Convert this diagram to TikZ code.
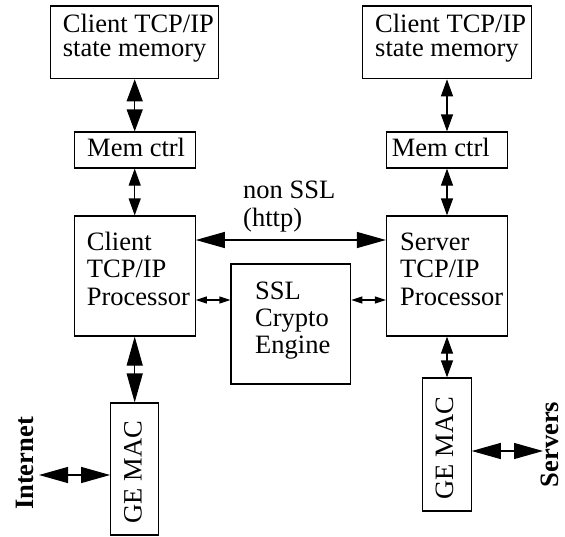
\documentclass[tikz,border=0pt]{standalone}
\usepackage{fontspec}
\setmainfont{Liberation Serif}
\usetikzlibrary{arrows.meta}

\tikzset{
  box/.style={draw, line width=1.2pt, inner sep=0pt, fill=none},
  % multi-line labels are anchored at the baseline of their last line
  txt/.style={inner sep=0pt, align=left, anchor=base west,
    font=\fontsize{26.5}{27}\selectfont},
  vtxt/.style={inner sep=0pt, anchor=base, rotate=90,
    font=\fontsize{26.5}{27}\selectfont},
  link/.style={line width=1.2pt},
  hugetip/.tip={Triangle[length=29pt,width=16pt]},
  bigtip/.tip={Triangle[length=22pt,width=16pt]},
  midtip/.tip={Triangle[length=17pt,width=12pt]},
  smalltip/.tip={Triangle[length=11pt,width=7pt]},
}

\begin{document}
\begin{tikzpicture}[x=1pt,y=-1pt]
\useasboundingbox (0,0) rectangle (565,536);

% client side boxes
\node[box, minimum width=168.3pt, minimum height=72.7pt] (csmL) at (134.7,42.35) {};
\node[box, minimum width=121pt, minimum height=36pt] (memL) at (134.7,150) {};
\node[box, minimum width=121pt, minimum height=120pt] (procL) at (134.7,276) {};
\node[box, minimum width=48pt, minimum height=132pt] (gemacL) at (134.7,469) {};

% crypto engine
\node[box, minimum width=119.7pt, minimum height=120pt] (ssl) at (290.85,324) {};

% server side boxes
\node[box, minimum width=169pt, minimum height=72.7pt] (csmR) at (447,42.35) {};
\node[box, minimum width=121pt, minimum height=36pt] (memR) at (447,150) {};
\node[box, minimum width=121pt, minimum height=120pt] (procR) at (447,276) {};
\node[box, minimum width=48.3pt, minimum height=133pt] (gemacR) at (447,444.5) {};

% labels
\node[txt, font=\fontsize{26.5}{24}\selectfont] (csmLt) at (62.7,56.2) {Client TCP/IP\\state memory};
\node[txt, font=\fontsize{26.5}{24}\selectfont] (csmRt) at (375,56.2) {Client TCP/IP\\state memory};
\node[txt] (memLt) at (87,156.7) {Mem ctrl};
\node[txt] (memRt) at (391.7,156.7) {Mem ctrl};
\node[txt, font=\fontsize{26.5}{27.5}\selectfont] (procLt) at (86.7,305) {Client\\TCP/IP\\Processor};
\node[txt, font=\fontsize{26.5}{27.5}\selectfont] (procRt) at (400,305) {Server\\TCP/IP\\Processor};
\node[txt, font=\fontsize{26.5}{26.7}\selectfont] (sslt) at (255,353.3) {SSL\\Crypto\\Engine};
\node[txt, font=\fontsize{26.5}{28.4}\selectfont] (nonssl) at (243,226.7) {non SSL\\(http)};
\node[vtxt] (gemacLt) at (141.7,472) {GE MAC};
\node[vtxt] (gemacRt) at (453,448) {GE MAC};
\node[vtxt, font=\fontsize{26.5}{27}\selectfont\bfseries] (inet) at (33.3,463.5) {Internet};
\node[vtxt, font=\fontsize{26.5}{27}\selectfont\bfseries] (servers) at (558,444.5) {Servers};

% outer ends of the network links
\coordinate (inetEnd) at (39,475);
\coordinate (srvEnd) at (543,451);

% client column
\draw[link, bigtip-bigtip] (csmL.south) -- (memL.north);
\draw[link, midtip-midtip] (memL.south) -- (procL.north);
\draw[link, hugetip-hugetip] (procL.south) -- (gemacL.north);
\draw[link, hugetip-hugetip] (inetEnd) -- (gemacL.west |- inetEnd);

% server column
\draw[link, midtip-midtip] (csmR.south) -- (memR.north);
\draw[link, midtip-midtip] (memR.south) -- (procR.north);
\draw[link, midtip-midtip] (procR.south) -- (gemacR.north);
\draw[link, hugetip-hugetip] (gemacR.east |- srvEnd) -- (srvEnd);

% processor links
\draw[link, hugetip-hugetip] ([yshift=36pt]procL.east) -- ([yshift=36pt]procR.west);
\draw[link, smalltip-smalltip] ([yshift=-24pt]procL.east) -- ([yshift=-24pt]procL.east -| ssl.west);
\draw[link, smalltip-smalltip] ([yshift=-24pt]procR.west -| ssl.east) -- ([yshift=-24pt]procR.west);
\end{tikzpicture}
\end{document}
